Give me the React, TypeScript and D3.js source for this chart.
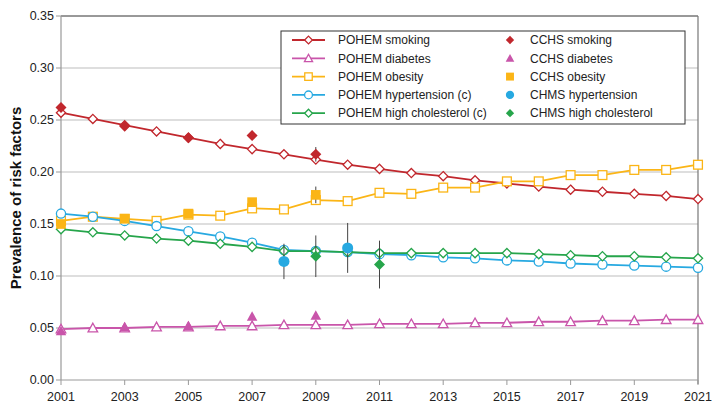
import React from "react";
import * as d3 from "d3";

const years = d3.range(2001, 2022);
const pohemSmoking = [0.257, 0.251, 0.245, 0.239, 0.233, 0.227, 0.222, 0.217, 0.212, 0.207, 0.203, 0.199, 0.196, 0.192, 0.189, 0.186, 0.183, 0.181, 0.179, 0.177, 0.174];
const pohemDiabetes = [0.049, 0.05, 0.05, 0.051, 0.051, 0.052, 0.052, 0.053, 0.053, 0.053, 0.054, 0.054, 0.054, 0.055, 0.055, 0.056, 0.056, 0.057, 0.057, 0.058, 0.058];
const pohemObesity = [0.153, 0.157, 0.155, 0.153, 0.159, 0.158, 0.165, 0.164, 0.173, 0.172, 0.18, 0.179, 0.185, 0.185, 0.191, 0.191, 0.197, 0.197, 0.202, 0.202, 0.207];
const pohemHypertension = [0.16, 0.157, 0.153, 0.148, 0.143, 0.138, 0.132, 0.125, 0.124, 0.123, 0.121, 0.12, 0.118, 0.117, 0.115, 0.114, 0.112, 0.111, 0.11, 0.109, 0.108];
const pohemCholesterol = [0.145, 0.142, 0.139, 0.136, 0.134, 0.131, 0.128, 0.124, 0.124, 0.123, 0.122, 0.122, 0.122, 0.122, 0.122, 0.121, 0.12, 0.119, 0.119, 0.118, 0.117];

const cchsYears = [2001, 2003, 2005, 2007, 2009];
const cchsSmoking = [0.262, 0.244, 0.233, 0.235, 0.217];
const cchsSmokingErr = [0.003, 0.004, 0.003, 0.004, 0.007];
const cchsDiabetes = [0.047, 0.051, 0.052, 0.061, 0.062];
const cchsDiabetesErr = [0.002, 0.002, 0.002, 0.003, 0.003];
const cchsObesity = [0.15, 0.155, 0.16, 0.171, 0.178];
const cchsObesityErr = [0.003, 0.003, 0.003, 0.004, 0.008];
const chmsHypYears = [2008, 2010];
const chmsHypertension = [0.114, 0.127];
const chmsHypertensionErr = [0.017, 0.024];
const chmsCholYears = [2009, 2011];
const chmsCholesterol = [0.119, 0.111];
const chmsCholesterolErr = [0.02, 0.023];

const yTicks = [0, 0.05, 0.1, 0.15, 0.2, 0.25, 0.3, 0.35];
const xTicks = [2001, 2003, 2005, 2007, 2009, 2011, 2013, 2015, 2017, 2019, 2021];

const C = {
  smoking: "#c1272d",
  diabetes: "#c955aa",
  obesity: "#fbb516",
  hyp: "#27a9e1",
  chol: "#26a54b",
};

const x = d3.scaleLinear().domain([2001, 2021]).range([61, 698]);
const y = d3.scaleLinear().domain([0, 0.35]).range([380, 16]);

type Shape = "diamond" | "triangle" | "square" | "circle";

function Marker({ shape, cx, cy, color, filled, s = 1 }: { shape: Shape; cx: number; cy: number; color: string; filled: boolean; s?: number }) {
  const fill = filled ? color : "#fff";
  const sw = filled ? 0 : 1.3;
  if (shape === "diamond") {
    const r = 4.6 * s;
    return <path d={`M${cx},${cy - r}L${cx + r},${cy}L${cx},${cy + r}L${cx - r},${cy}Z`} fill={fill} stroke={color} strokeWidth={sw} />;
  }
  if (shape === "triangle") {
    const r = 4.8 * s;
    return <path d={`M${cx},${cy - r}L${cx + r},${cy + r * 0.8}L${cx - r},${cy + r * 0.8}Z`} fill={fill} stroke={color} strokeWidth={sw} />;
  }
  if (shape === "square") {
    const r = 4.4 * s;
    return <rect x={cx - r} y={cy - r} width={2 * r} height={2 * r} fill={fill} stroke={color} strokeWidth={sw} />;
  }
  return <circle cx={cx} cy={cy} r={4.6 * s} fill={fill} stroke={color} strokeWidth={sw} />;
}

const pohem = [
  { name: "POHEM smoking", vals: pohemSmoking, color: C.smoking, shape: "diamond" as Shape },
  { name: "POHEM diabetes", vals: pohemDiabetes, color: C.diabetes, shape: "triangle" as Shape },
  { name: "POHEM obesity", vals: pohemObesity, color: C.obesity, shape: "square" as Shape },
  { name: "POHEM hypertension (c)", vals: pohemHypertension, color: C.hyp, shape: "circle" as Shape },
  { name: "POHEM high cholesterol (c)", vals: pohemCholesterol, color: C.chol, shape: "diamond" as Shape },
];

const obs = [
  { name: "CCHS smoking", xs: cchsYears, vals: cchsSmoking, err: cchsSmokingErr, color: C.smoking, shape: "diamond" as Shape, s: 1.2 },
  { name: "CCHS diabetes", xs: cchsYears, vals: cchsDiabetes, err: cchsDiabetesErr, color: C.diabetes, shape: "triangle" as Shape, s: 1.1 },
  { name: "CCHS obesity", xs: cchsYears, vals: cchsObesity, err: cchsObesityErr, color: C.obesity, shape: "square" as Shape, s: 1.1 },
  { name: "CHMS hypertension", xs: chmsHypYears, vals: chmsHypertension, err: chmsHypertensionErr, color: C.hyp, shape: "circle" as Shape, s: 1.2 },
  { name: "CHMS high cholesterol", xs: chmsCholYears, vals: chmsCholesterol, err: chmsCholesterolErr, color: C.chol, shape: "diamond" as Shape, s: 1.2 },
];

export default function App() {
  const line = d3.line<number>().x((_, i) => x(years[i])).y((d) => y(d));
  const font = "'Liberation Sans', Arial, Helvetica, sans-serif";
  const legX = 281, legY = 31, legW = 404, legH = 93;
  const rowY = (i: number) => 40 + i * 18.3;
  return (
    <svg width={723} height={415} style={{ position: "absolute", left: 0, top: 0, display: "block", fontFamily: font }}>
      <rect width={723} height={415} fill="#fff" />
      {yTicks.filter((t) => t > 0 && t < 0.35).map((t) => (
        <line key={t} x1={x(2001)} x2={x(2021)} y1={y(t)} y2={y(t)} stroke="#bdbdbd" strokeWidth={1} />
      ))}
      <line x1={x(2001)} x2={x(2021)} y1={y(0.35)} y2={y(0.35)} stroke="#333" strokeWidth={1} />
      <line x1={x(2021)} x2={x(2021)} y1={y(0.35)} y2={y(0) + 4} stroke="#777" strokeWidth={1.2} />
      <line x1={x(2001)} x2={x(2001)} y1={y(0.35)} y2={y(0)} stroke="#999" strokeWidth={1.2} />
      <line x1={x(2001)} x2={x(2021)} y1={y(0)} y2={y(0)} stroke="#999" strokeWidth={1.2} />
      {yTicks.map((t) => (
        <g key={t}>
          <line x1={x(2001) - 5} x2={x(2001)} y1={y(t)} y2={y(t)} stroke="#999" />
          <text x={54} y={y(t)} dy="0.35em" textAnchor="end" fontSize={12.5} fill="#222">{t.toFixed(2)}</text>
        </g>
      ))}
      {xTicks.map((t) => (
        <g key={t}>
          <line x1={x(t)} x2={x(t)} y1={y(0)} y2={y(0) + 5} stroke="#999" />
          <text x={x(t)} y={401} textAnchor="middle" fontSize={12.5} fill="#222">{t}</text>
        </g>
      ))}
      <text transform={`translate(21,${y(0.175)}) rotate(-90)`} textAnchor="middle" fontSize={15} fontWeight="bold" fill="#111">Prevalence of risk factors</text>

      {pohem.map((s) => (
        <g key={s.name}>
          <path d={line(s.vals) || ""} fill="none" stroke={s.color} strokeWidth={1.8} />
          {s.vals.map((v, i) => (
            <Marker key={i} shape={s.shape} cx={x(years[i])} cy={y(v)} color={s.color} filled={false} />
          ))}
        </g>
      ))}
      {obs.map((s) => (
        <g key={s.name}>
          {s.vals.map((v, i) => (
            <line key={i} x1={x(s.xs[i])} x2={x(s.xs[i])} y1={y(v - s.err[i])} y2={y(v + s.err[i])} stroke="#444" strokeWidth={1} />
          ))}
          {s.vals.map((v, i) => (
            <Marker key={"m" + i} shape={s.shape} cx={x(s.xs[i])} cy={y(v)} color={s.color} filled={true} s={s.s} />
          ))}
        </g>
      ))}

      <rect x={legX} y={legY} width={legW} height={legH} fill="#fff" stroke="#333" strokeWidth={1} />
      {pohem.map((s, i) => (
        <g key={s.name}>
          <line x1={292} x2={325} y1={rowY(i)} y2={rowY(i)} stroke={s.color} strokeWidth={1.8} />
          <Marker shape={s.shape} cx={308.5} cy={rowY(i)} color={s.color} filled={false} s={0.85} />
          <text x={338} y={rowY(i)} dy="0.35em" fontSize={12} fill="#222">{s.name}</text>
        </g>
      ))}
      {obs.map((s, i) => (
        <g key={s.name}>
          <Marker shape={s.shape} cx={510} cy={rowY(i)} color={s.color} filled={true} s={0.9} />
          <text x={530} y={rowY(i)} dy="0.35em" fontSize={12} fill="#222">{s.name}</text>
        </g>
      ))}
    </svg>
  );
}
